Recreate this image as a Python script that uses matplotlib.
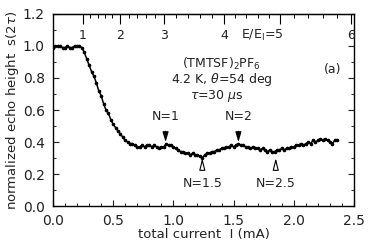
import numpy as np
import matplotlib
matplotlib.use("Agg")
import matplotlib.pyplot as plt
from matplotlib.ticker import MultipleLocator

# echo height vs total current (step 0.02 mA)
current = np.round(np.arange(0.0, 2.37, 0.02), 2)
echo = [
    0.99, 1.00, 1.00, 1.00, 0.99, 0.99, 1.00, 0.99, 0.99, 1.00, 1.00, 1.00, 0.99,
    0.96, 0.92, 0.88, 0.84, 0.81, 0.77, 0.72, 0.69, 0.64, 0.60, 0.58, 0.54, 0.51,
    0.49, 0.47, 0.45, 0.43, 0.41, 0.40, 0.39, 0.39, 0.38, 0.37, 0.37, 0.38, 0.37,
    0.38, 0.38, 0.37, 0.38, 0.37, 0.36, 0.37, 0.37, 0.39, 0.38, 0.38, 0.37, 0.36,
    0.35, 0.34, 0.34, 0.33, 0.33, 0.32, 0.33, 0.32, 0.32, 0.31, 0.30, 0.32, 0.33,
    0.33, 0.34, 0.34, 0.35, 0.35, 0.36, 0.36, 0.37, 0.37, 0.38, 0.37, 0.38, 0.39,
    0.38, 0.38, 0.37, 0.37, 0.36, 0.37, 0.36, 0.36, 0.35, 0.36, 0.35, 0.34, 0.35,
    0.34, 0.34, 0.35, 0.35, 0.36, 0.35, 0.36, 0.36, 0.37, 0.37, 0.38, 0.38, 0.39,
    0.38, 0.39, 0.40, 0.39, 0.41, 0.40, 0.41, 0.42, 0.41, 0.42, 0.41, 0.40, 0.39,
    0.41, 0.41,
]

# top axis: E/E1 values and the current they sit at
e_ratio = [1, 2, 3, 4, 5, 6]
e_current = [0.247, 0.556, 0.92, 1.42, 1.885, 2.475]

# resonance markers
n_filled = ["N=1", "N=2"]
n_filled_at = [0.935, 1.54]
n_hollow = ["N=1.5", "N=2.5"]
n_hollow_at = [1.24, 1.85]

ink = "#222222"
plt.rcParams["font.family"] = "DejaVu Sans"
fig = plt.figure(figsize=(3.68, 2.45), dpi=100)
ax = fig.add_axes([0.144, 0.159, 0.818, 0.784])

ax.plot(current, echo, color="black", lw=1.1, marker="o", ms=1.6)

ax.set_xlim(0, 2.5)
ax.set_ylim(0, 1.2)
ax.xaxis.set_major_locator(MultipleLocator(0.5))
ax.xaxis.set_minor_locator(MultipleLocator(0.1))
ax.yaxis.set_major_locator(MultipleLocator(0.2))
ax.yaxis.set_minor_locator(MultipleLocator(0.1))
ax.tick_params(which="both", direction="in", top=False, right=True,
               labelsize=10, colors=ink)
ax.tick_params(which="major", length=4, width=0.8)
ax.tick_params(which="minor", length=2.5, width=0.7)
ax.tick_params(axis="x", which="major", pad=6)
ax.tick_params(axis="y", which="major", pad=6)
for s in ax.spines.values():
    s.set_linewidth(1.0)
ax.set_xticklabels([f"{v:.1f}" for v in ax.get_xticks()])
ax.set_yticklabels([f"{v:.1f}" for v in ax.get_yticks()])
ax.set_xlabel("total current  I (mA)", fontsize=9.5, color=ink, labelpad=0)
ax.set_ylabel("normalized echo height  s(2$\\tau$)", fontsize=9.5,
              color=ink, labelpad=1)

# top E/E1 scale
top = ax.secondary_xaxis("top")
top.set_xticks(e_current)
top.set_xticklabels([])
minor_e = [e for e in np.arange(1.0, 6.01, 0.2) if abs(e - round(e)) > 1e-6]
top.set_xticks(np.interp(minor_e, e_ratio, e_current), minor=True)
top.tick_params(which="major", direction="in", length=7, width=0.8)
top.tick_params(which="minor", direction="in", length=3, width=0.7)
for e, xc in zip(e_ratio, e_current):
    lab = "E/E$_{\\rm I}$=5" if e == 5 else str(e)
    ha = "right" if e == 5 else "center"
    xo = xc + 0.03 if e == 5 else xc
    ax.text(xo, 1.065, lab, ha=ha, va="center", fontsize=9, color=ink)

ax.text(1.4, 0.89, "(TMTSF)$_2$PF$_6$", ha="center", va="center", fontsize=9, color=ink)
ax.text(1.4, 0.79, "4.2 K, $\\theta$=54 deg", ha="center", va="center", fontsize=9, color=ink)
ax.text(1.36, 0.69, "$\\tau$=30 $\\mu$s", ha="center", va="center", fontsize=9, color=ink)
ax.text(2.32, 0.85, "(a)", ha="center", va="center", fontsize=9, color=ink)

for lab, xc in zip(n_filled, n_filled_at):
    ax.annotate(lab, xy=(xc, 0.40), xytext=(xc, 0.56), ha="center", va="center",
                fontsize=9, color=ink,
                arrowprops=dict(arrowstyle="-|>,head_length=1.0,head_width=0.3",
                                color="black", lw=0.8,
                                shrinkA=4, shrinkB=0, mutation_scale=6))
for lab, xc in zip(n_hollow, n_hollow_at):
    ax.annotate(lab, xy=(xc, 0.30), xytext=(xc, 0.14), ha="center", va="center",
                fontsize=9, color=ink,
                arrowprops=dict(arrowstyle="-|>,head_length=1.2,head_width=0.3",
                                fc="white", ec="black", lw=0.8,
                                shrinkA=5, shrinkB=0, mutation_scale=6))

fig.savefig("out.png", dpi=100)
